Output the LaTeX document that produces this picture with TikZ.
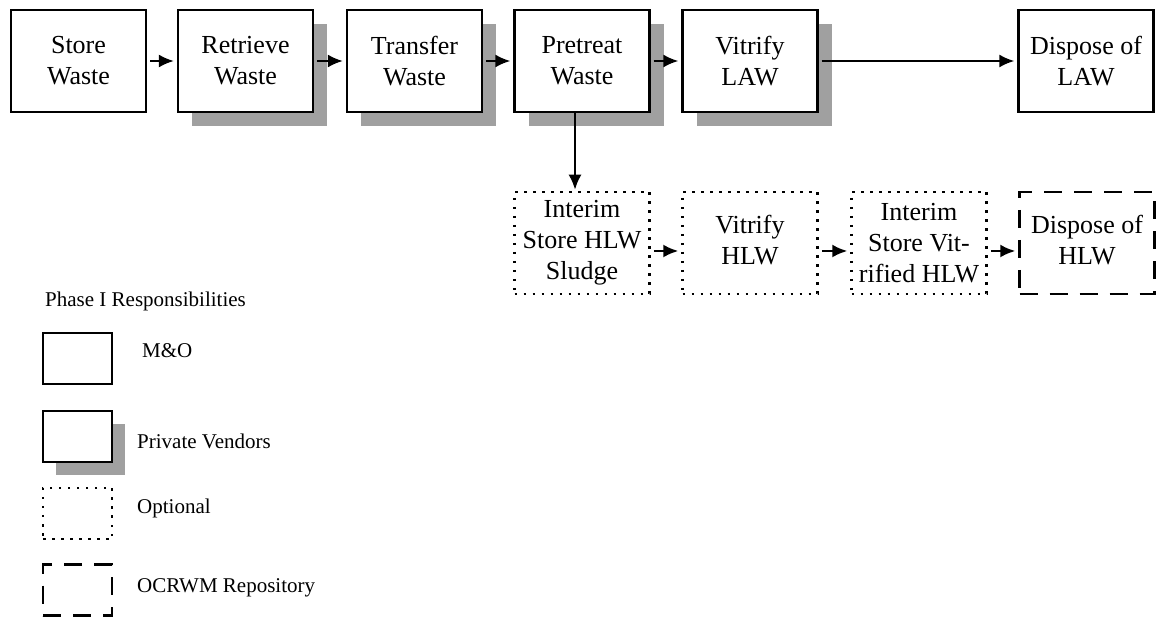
\documentclass[tikz,border=0pt]{standalone}
\usepackage{fontspec}
\setmainfont{Liberation Serif}
\usetikzlibrary{arrows.meta,shadows}
\definecolor{shadowgray}{HTML}{A0A0A0}
\newcommand{\uptext}[1]{\raisebox{6pt}{\begin{tabular}{@{}c@{}}#1\end{tabular}}}
\begin{document}
\begin{tikzpicture}[x=1pt,y=-1pt,
  mo/.style={draw=black, line width=2.2pt, fill=white, minimum width=135pt, minimum height=102pt,
    inner sep=0pt, align=center, font=\fontsize{26}{31}\selectfont},
  vendor/.style={mo, drop shadow={shadow xshift=14pt, shadow yshift=-14pt, fill=shadowgray, opacity=1}},
  optional/.style={mo, line width=2.5pt, dash pattern=on 2.5pt off 6.5pt},
  repo/.style={mo, line width=2.5pt, dash pattern=on 18pt off 12pt},
  arr/.style={line width=2.2pt, -{Latex[length=15pt,width=13pt]}, shorten <=3pt, shorten >=3pt},
  legbox/.style={minimum width=69pt, minimum height=51pt, inner sep=0pt},
  legtext/.style={anchor=base west, inner sep=0pt, font=\fontsize{21}{25}\selectfont}
]
\useasboundingbox (0,0) rectangle (1160,617);

% top row
\node[mo]     (sw) at (78.5,61)  {Store\\Waste};
\node[vendor] (rw) at (245.5,61) {Retrieve\\Waste};
\node[vendor] (tw) at (414.5,61) {Transfer\\Waste};
\node[vendor] (pw) at (582,61)   {Pretreat\\Waste};
\node[vendor] (vl) at (750,61)   {Vitrify\\LAW};
\node[mo]     (dl) at (1086,61)  {Dispose of\\LAW};

% second row
\node[optional] (is) at (582,243)  {Interim\\Store HLW\\Sludge};
\node[optional] (vh) at (750,243)  {\uptext{Vitrify\\HLW}};
\node[optional] (iv) at (919,243)  {Interim\\Store Vit-\\rified HLW};
\node[repo]     (dh) at (1087,243) {\uptext{Dispose of\\HLW}};

% connectors
\draw[arr] (sw) -- (rw);
\draw[arr] (rw) -- (tw);
\draw[arr] (tw) -- (pw);
\draw[arr] (pw) -- (vl);
\draw[arr] (vl) -- (dl);
\draw[arr, shorten <=0pt, shorten >=1pt] ([xshift=-7pt]pw.south) -- ([xshift=-7pt]is.north);
\draw[arr] ([yshift=-8pt]is.east) -- ([yshift=-8pt]vh.west);
\draw[arr] ([yshift=-8pt]vh.east) -- ([yshift=-8pt]iv.west);
\draw[arr] ([yshift=-8pt]iv.east) -- ([yshift=-8pt]dh.west);

% legend
\node[legtext] (title) at (45,307) {Phase I Responsibilities};
\node[mo, legbox]       (l1) at (77.5,358.5) {};
\node[mo, legbox, drop shadow={shadow xshift=13pt, shadow yshift=-13pt, fill=shadowgray, opacity=1}] (l2) at (77.5,436.5) {};
\node[optional, legbox] (l3) at (77.5,513.5) {};
\node[repo, legbox]     (l4) at (77.5,590) {};
\node[legtext] (t1) at (142,358) {M\&O};
\node[legtext] (t2) at (137,449) {Private Vendors};
\node[legtext] (t3) at (137,514) {Optional};
\node[legtext] (t4) at (137,592) {OCRWM Repository};
\end{tikzpicture}
\end{document}
